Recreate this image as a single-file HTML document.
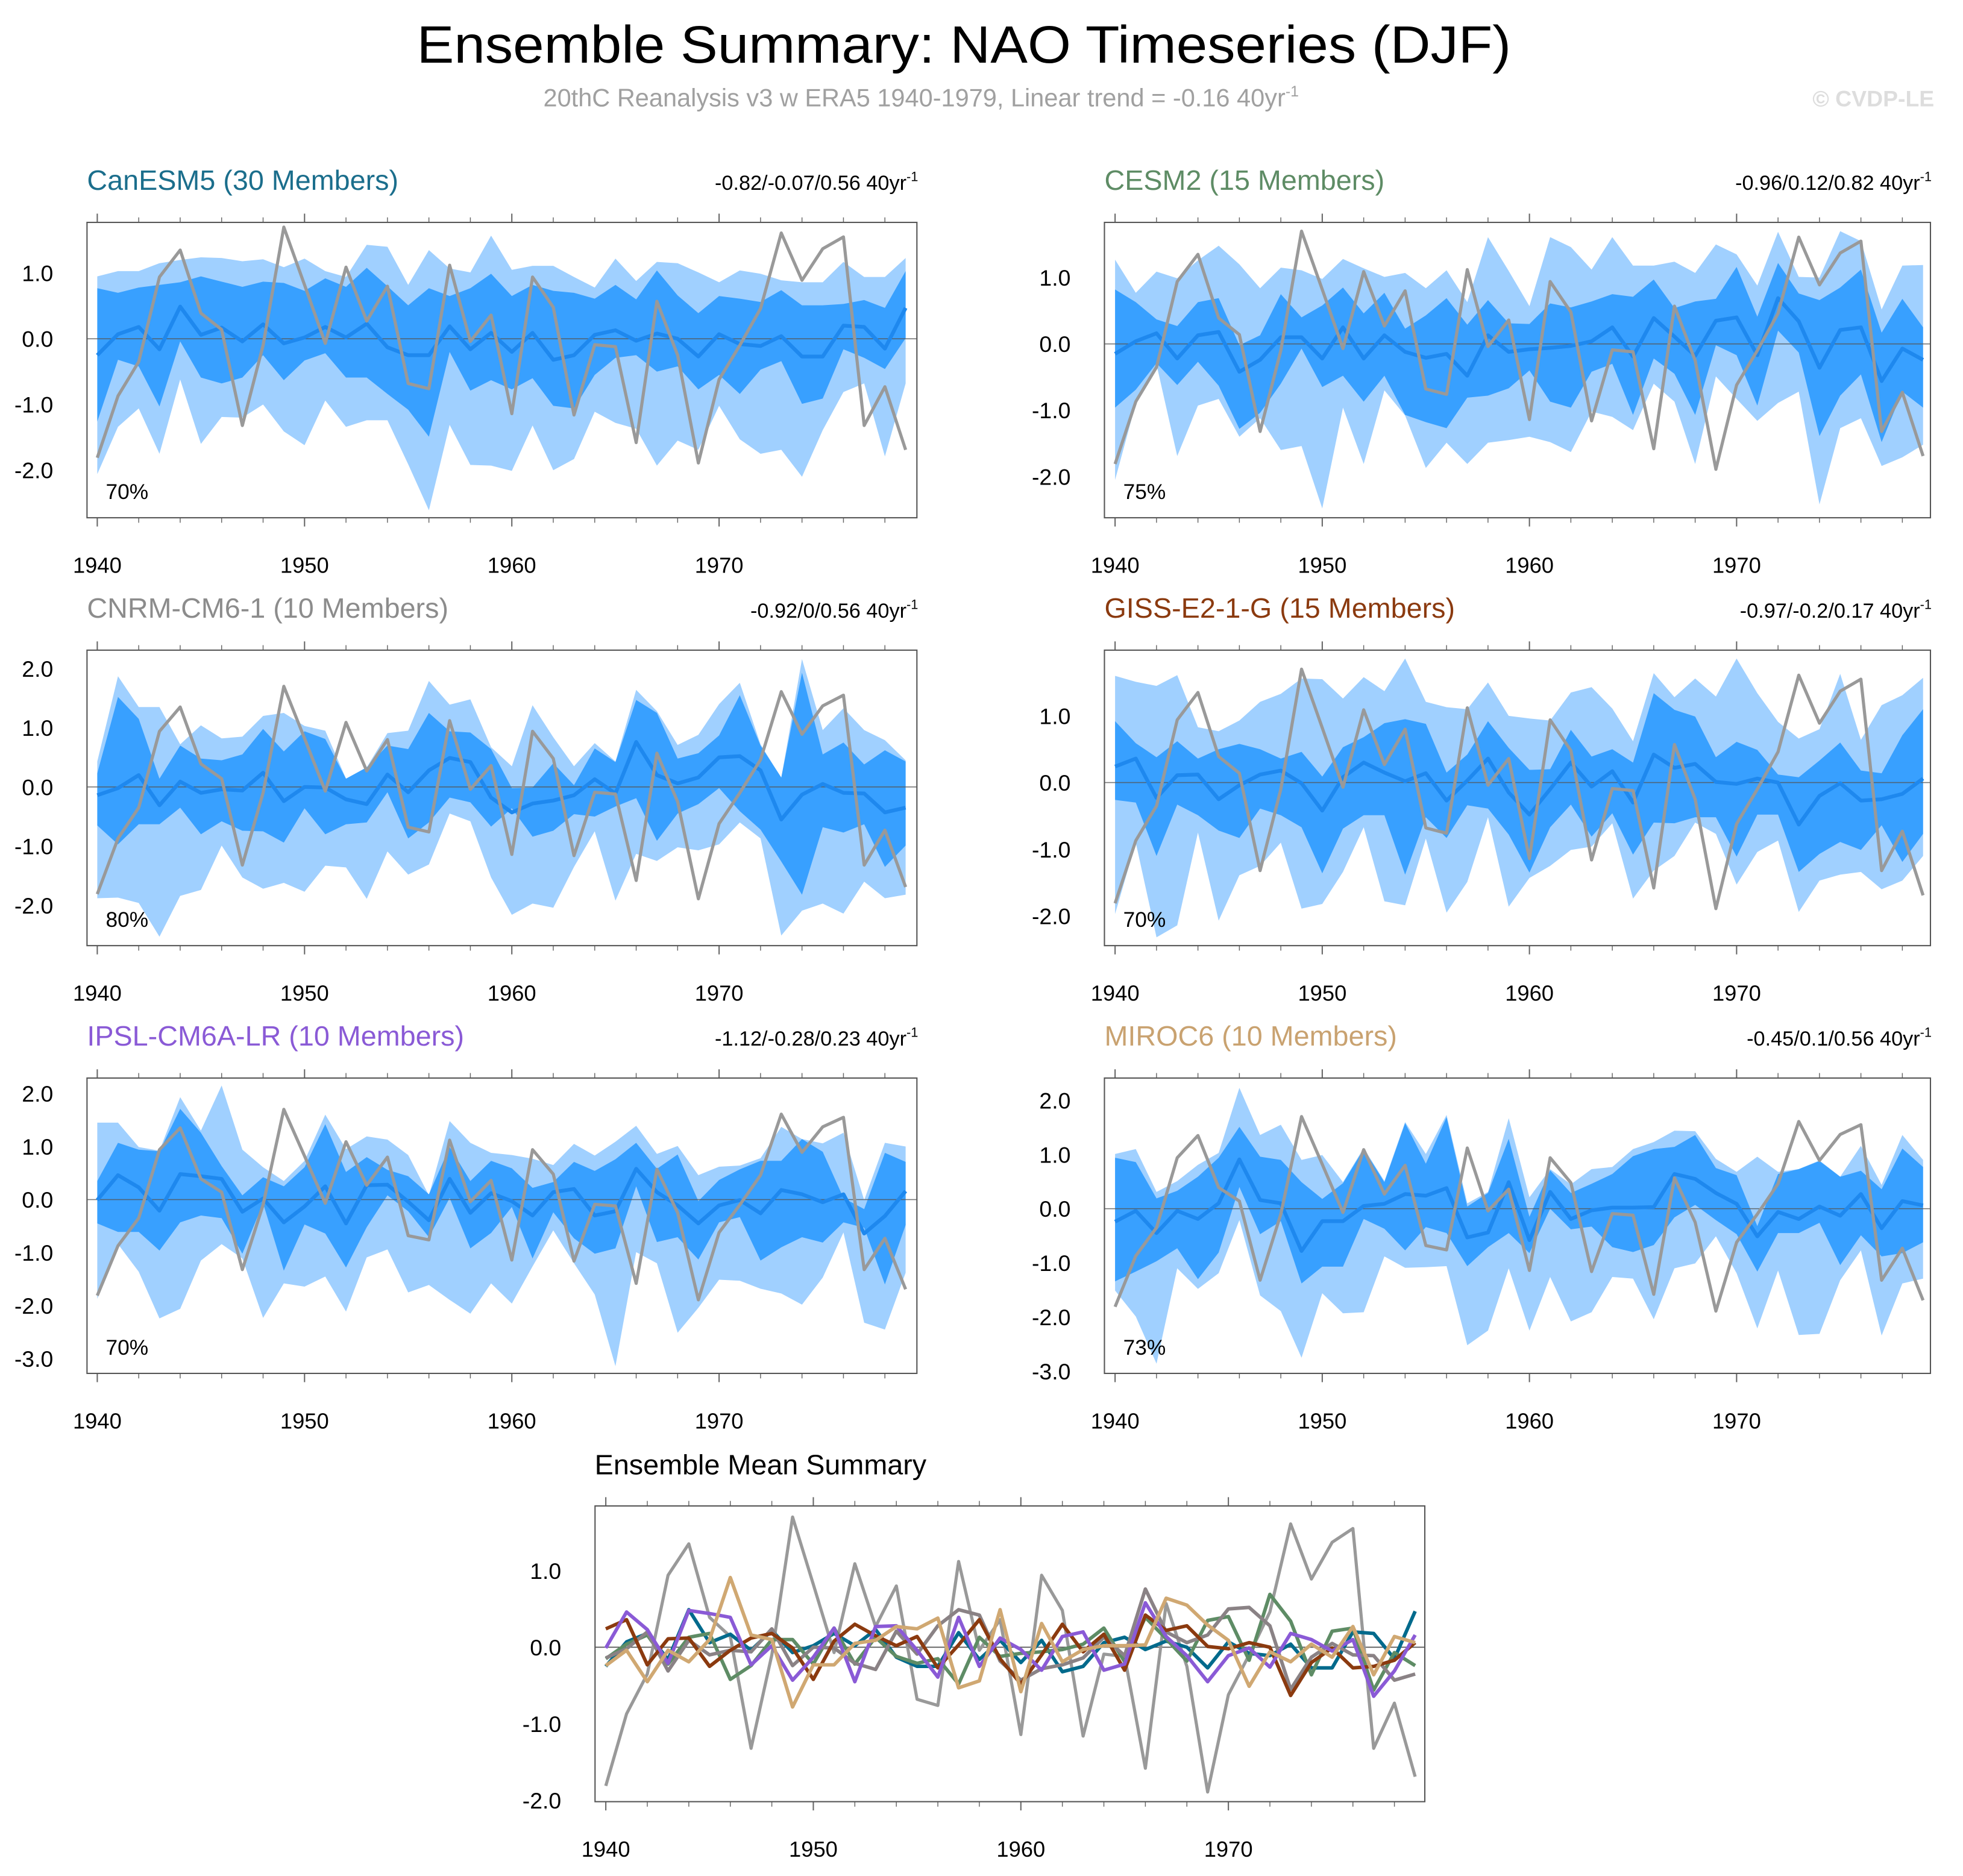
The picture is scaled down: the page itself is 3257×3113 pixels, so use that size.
<!DOCTYPE html>
<html><head><meta charset="utf-8"><title>Ensemble Summary: NAO Timeseries (DJF)</title>
<style>html,body{margin:0;padding:0;background:#fff}svg{display:block}text{font-family:"Liberation Sans",Arial,sans-serif}</style>
</head><body>
<svg id="chart" xmlns="http://www.w3.org/2000/svg" width="3257" height="3113" viewBox="0 0 1568 1499" preserveAspectRatio="none">
<text x="770" y="50" font-size="42" text-anchor="middle" textLength="874" lengthAdjust="spacingAndGlyphs">Ensemble Summary: NAO Timeseries (DJF)</text>
<text x="434" y="85" font-size="20" fill="#a0a0a0">20thC Reanalysis v3 w ERA5 1940-1979, Linear trend = -0.16 40yr<tspan font-size="12" dy="-8">-1</tspan></text>
<text x="1545" y="85" font-size="18" font-weight="bold" fill="#dddddd" text-anchor="end">© CVDP-LE</text>
<g id="plots"></g>
</svg>
<script>
const years=[];for(let y=1940;y<=1979;y++)years.push(y);
const obs=[-1.81,-0.87,-0.35,0.94,1.35,0.39,0.14,-1.32,-0.1,1.70,0.82,-0.07,1.09,0.27,0.8,-0.68,-0.76,1.12,-0.04,0.36,-1.14,0.94,0.48,-1.16,-0.09,-0.12,-1.58,0.57,-0.25,-1.89,-0.62,-0.1,0.46,1.61,0.89,1.37,1.55,-1.32,-0.73,-1.69];

const canMean=[-0.25,0.07,0.18,-0.16,0.49,0.06,0.17,-0.04,0.22,-0.07,0.02,0.18,0.02,0.23,-0.13,-0.25,-0.25,0.19,-0.16,0.09,-0.2,0.09,-0.32,-0.25,0.06,0.13,-0.03,0.08,0,-0.27,0.07,-0.08,-0.11,0.04,-0.27,-0.27,0.2,0.18,-0.15,0.47];
const canDU=[0.77,0.7,0.78,0.82,0.86,0.95,0.87,0.79,0.87,0.85,0.73,0.92,0.79,1.08,0.8,0.51,0.77,0.65,0.77,0.99,0.65,0.82,0.73,0.7,0.61,0.82,0.6,1.04,0.66,0.39,0.65,0.61,0.56,0.74,0.51,0.51,0.53,0.59,0.47,1.03];
const canDL=[-1.26,-0.32,-0.42,-1.03,-0.04,-0.59,-0.68,-0.59,-0.25,-0.63,-0.33,-0.22,-0.59,-0.59,-0.84,-1.08,-1.49,-0.2,-0.79,-0.63,-0.77,-0.6,-1.02,-1.06,-0.55,-0.29,-0.25,-0.5,-0.42,-0.77,-0.55,-0.84,-0.47,-0.34,-0.99,-0.91,-0.16,-0.29,-0.46,0.01];
const canLU=[0.95,1.03,1.03,1.15,1.2,1.24,1.23,1.18,1.21,1.09,1.22,1.03,0.94,1.43,1.4,0.82,1.35,1.07,1.01,1.57,1.05,1.11,1.11,0.94,0.78,1.22,0.88,1.17,1.15,1.01,0.86,1.04,0.99,0.89,0.86,0.86,1.17,0.94,0.94,1.23];
const canLL=[-2.06,-1.34,-1.06,-1.75,-0.62,-1.6,-1.19,-1.2,-1.0,-1.41,-1.62,-0.94,-1.34,-1.24,-1.24,-1.91,-2.61,-1.31,-1.92,-1.93,-2.01,-1.32,-2.0,-1.83,-1.11,-1.28,-1.37,-1.93,-1.55,-1.69,-1.02,-1.53,-1.75,-1.69,-2.1,-1.39,-0.81,-0.68,-1.79,-0.68];

const cesmMean=[-0.15,0.04,0.16,-0.22,0.13,0.18,-0.42,-0.24,0.1,0.1,-0.22,0.25,-0.22,0.13,-0.12,-0.21,-0.15,-0.48,0.13,-0.12,-0.08,-0.06,-0.03,0.04,0.25,-0.19,0.39,0.11,-0.18,0.35,0.4,-0.17,0.69,0.34,-0.36,0.21,0.25,-0.56,-0.07,-0.24];
const cesmDU=[0.82,0.63,0.37,0.27,0.63,0.69,-0.02,0.13,0.75,0.4,0.58,0.85,0.46,0.77,0.23,0.43,0.69,0.29,0.66,0.31,0.3,0.61,0.55,0.64,0.75,0.71,0.97,0.54,0.64,0.68,1.16,0.41,1.22,0.76,0.66,0.85,1.12,0.17,0.68,0.25];
const cesmDL=[-0.96,-0.69,-0.29,-0.62,-0.27,-0.63,-1.28,-1.04,-0.6,-0.07,-0.65,-0.48,-0.87,-0.48,-1.07,-1.18,-1.27,-0.81,-0.78,-0.67,-0.4,-0.87,-0.96,-0.42,-0.3,-1.07,-0.22,-0.45,-1.07,-0.02,-0.17,-0.93,0.2,-0.13,-1.39,-0.78,-0.46,-1.48,-0.72,-0.96];
const cesmLU=[1.27,0.77,1.09,0.99,1.26,1.48,1.2,0.84,1.15,1.11,0.98,1.28,1.14,1.01,1.07,0.84,1.11,0.63,1.61,1.1,0.57,1.61,1.46,1.12,1.61,1.18,1.18,1.24,1.07,1.5,1.35,0.88,1.69,1.01,1.0,1.7,1.55,0.52,1.18,1.19];
const cesmLL=[-2.05,-0.9,-0.31,-1.69,-0.93,-0.83,-1.4,-1.12,-1.6,-1.54,-2.48,-0.96,-1.81,-0.7,-1.08,-1.87,-1.49,-1.81,-1.49,-1.45,-1.4,-1.48,-1.63,-1.02,-1.1,-1.3,-0.6,-0.87,-1.81,-0.49,-0.83,-1.16,-0.89,-0.72,-2.42,-1.27,-1.12,-1.84,-1.71,-1.52];

const cnrmMean=[-0.14,-0.02,0.2,-0.31,0.09,-0.1,-0.04,-0.06,0.24,-0.24,0,-0.01,-0.21,-0.29,0.21,-0.09,0.28,0.49,0.42,-0.18,-0.43,-0.28,-0.23,-0.14,0.13,-0.11,0.76,0.2,0.06,0.16,0.5,0.52,0.28,-0.55,-0.13,0.05,-0.1,-0.11,-0.43,-0.35];
const cnrmDU=[0.23,1.52,1.15,0.14,0.7,0.48,0.45,0.55,0.98,0.6,0.94,0.81,0.14,0.33,0.7,0.64,1.25,0.94,0.92,0.64,-0.02,-0.01,0.4,0.03,0.65,0.42,1.47,1.25,0.48,0.57,0.87,1.55,0.7,0.16,1.93,0.55,0.75,0.38,0.62,0.43];
const cnrmDL=[-0.65,-0.97,-0.63,-0.63,-0.35,-0.8,-0.58,-0.74,-0.75,-0.94,-0.36,-0.8,-0.63,-0.6,-0.09,-0.87,-0.6,-0.18,-0.26,-0.67,-0.36,-0.84,-0.74,-0.46,-0.5,-0.33,-0.19,-0.91,-0.45,-0.29,-0.02,-0.41,-0.72,-1.26,-1.82,-0.68,-0.77,-0.63,-1.35,-0.99];
const cnrmLU=[0.43,1.87,1.35,1.35,0.72,1.04,0.82,0.85,1.2,1.25,1.03,0.95,0.14,0.33,0.91,0.95,1.79,1.39,1.48,0.67,0.35,1.38,0.84,0.35,0.74,0.43,1.64,1.28,0.71,0.88,1.4,1.76,0.72,0.15,2.16,0.96,1.33,0.96,0.79,0.45];
const cnrmLL=[-1.88,-1.87,-1.96,-2.53,-1.84,-1.74,-0.99,-1.53,-1.72,-1.62,-1.77,-1.33,-1.36,-1.89,-1.09,-1.48,-1.31,-0.45,-0.58,-1.53,-2.16,-1.97,-2.04,-1.35,-0.75,-1.92,-1.13,-1.25,-1.02,-1.07,-0.97,-0.6,-0.87,-2.51,-2.09,-1.97,-2.14,-1.6,-1.88,-1.82];

const gissMean=[0.24,0.36,-0.23,0.11,0.12,-0.25,-0.04,0.12,0.18,-0.01,-0.42,0.08,0.3,0.15,0.02,0.14,-0.27,0.03,0.36,-0.15,-0.48,-0.1,0.3,-0.06,0.17,-0.3,0.42,0.22,0.28,0.01,-0.02,0.06,0,-0.63,-0.2,-0.01,-0.27,-0.25,-0.17,0.06];
const gissDU=[0.92,0.59,0.38,0.62,0.36,0.5,0.58,0.5,0.36,0.46,0.09,0.53,0.68,0.89,0.95,0.88,0.15,0.42,0.92,0.52,0.19,0.2,0.79,0.39,0.5,0.3,1.34,1.09,0.99,0.38,0.61,0.49,0.12,0.08,0.33,0.6,0.18,0.14,0.71,1.1];
const gissDL=[-0.26,-0.3,-1.1,-0.33,-0.49,-0.72,-0.83,-0.39,-0.49,-0.67,-1.36,-0.69,-0.49,-0.49,-1.38,-0.52,-0.83,-0.34,-0.39,-0.78,-1.35,-0.67,-0.33,-0.81,-0.46,-1.08,-0.6,-0.61,-0.52,-0.52,-1.11,-0.48,-0.48,-1.34,-1.07,-0.89,-1.01,-0.64,-1.19,-0.77];
const gissLU=[1.6,1.51,1.45,1.61,0.83,0.77,0.93,1.21,1.33,1.56,1.55,1.26,1.58,1.37,1.86,1.21,1.13,1.1,1.5,1.0,0.96,0.93,1.35,1.43,1.11,0.62,1.64,1.28,1.56,1.29,1.86,1.34,0.91,0.66,0.8,1.63,0.64,1.16,1.31,1.57];
const gissLL=[-1.97,-0.9,-2.32,-2.14,-0.75,-2.07,-1.39,-1.25,-0.9,-1.89,-1.82,-1.34,-0.67,-1.78,-1.84,-0.84,-1.95,-1.49,-0.52,-1.86,-1.43,-1.25,-1.01,-0.96,-0.61,-1.74,-1.32,-1.1,-0.6,-0.77,-1.53,-1.04,-0.87,-1.94,-1.47,-1.38,-1.34,-1.6,-1.47,-1.1];

const ipslMean=[-0.01,0.46,0.23,-0.21,0.48,0.44,0.39,-0.23,0.02,-0.43,-0.13,0.25,-0.45,0.27,0.28,-0.04,-0.39,0.39,-0.25,0.12,-0.03,-0.3,0.14,0.2,-0.3,-0.22,0.58,0.14,-0.11,-0.45,-0.11,-0.01,-0.26,0.18,0.1,-0.05,0.1,-0.64,-0.31,0.16];
const ipslDU=[0.35,1.07,0.94,0.91,1.71,1.26,0.63,0.08,0.42,0.25,0.61,1.42,0.52,0.8,0.56,0.44,0.1,0.99,0.35,0.73,0.59,0.22,0.33,0.71,0.54,0.76,1.07,0.58,0.85,-0.03,0.37,0.57,0.73,0.73,1.14,0.9,0.03,-0.18,0.88,0.71];
const ipslDL=[-0.45,-0.61,-0.61,-0.96,-0.43,-0.3,-0.35,-1.02,-0.07,-1.34,-0.47,-0.64,-1.28,-0.52,0.08,-0.22,-0.71,0.03,-0.92,-0.63,-0.14,-1.11,-0.24,-0.73,-1.02,-0.92,0.25,-0.8,-0.71,-1.13,-0.43,-0.33,-1.15,-0.9,-0.71,-0.81,-0.43,-0.53,-1.6,-0.48];
const ipslLU=[1.45,1.45,0.99,0.92,1.93,1.3,2.15,0.94,0.61,0.35,0.73,1.6,0.95,1.19,1.13,0.84,0.08,1.48,1.07,0.88,0.84,0.77,0.65,1.05,0.83,1.09,1.39,0.86,1.01,0.46,0.62,0.64,0.78,1.37,1.14,1.06,1.26,-0.01,1.07,1.0];
const ipslLL=[-1.87,-0.84,-1.36,-2.24,-2.06,-1.15,-0.84,-1.11,-2.23,-1.58,-1.64,-1.45,-2.11,-1.09,-0.94,-1.75,-1.61,-1.89,-2.15,-1.58,-1.96,-1.26,-0.58,-1.2,-1.79,-3.14,-0.99,-1.2,-2.51,-2.04,-1.51,-1.53,-1.68,-1.77,-1.98,-1.47,-0.62,-2.32,-2.45,-1.38];

const mirMean=[-0.24,-0.04,-0.45,-0.04,-0.19,0.1,0.91,0.16,0.1,-0.78,-0.23,-0.23,0.05,0.09,0.27,0.24,0.38,-0.53,-0.44,0.49,-0.58,0.31,-0.19,-0.03,0.02,0.02,0.03,0.64,0.55,0.29,0.09,-0.51,-0.06,-0.19,0.04,-0.13,0.27,-0.36,0.14,0.06];
const mirDU=[0.94,0.86,0.19,0.33,0.59,0.94,1.51,0.96,0.9,0.49,0.18,0.47,1.1,0.49,1.58,0.83,1.69,0.04,0.29,1.29,-0.15,0.71,0.29,0.46,0.64,0.97,1.1,1.14,1.36,0.75,0.62,-0.32,0.64,0.73,0.88,0.59,0.7,0.36,1.11,0.77];
const mirDL=[-1.34,-1.16,-0.97,-0.73,-1.3,-0.81,0.4,-0.47,-0.23,-1.38,-1.07,-1.07,-0.19,-0.37,-0.77,-0.34,-0.45,-1.06,-0.71,-0.45,-0.82,0,-0.38,-0.33,-0.71,-0.8,-0.67,-0.16,0.07,-0.21,-0.47,-1.16,-0.45,-0.45,-0.26,-1.04,-0.49,-0.88,-0.82,-0.62];
const mirLU=[1.01,1.1,0.31,0.51,0.81,1.03,2.23,1.36,1.55,0.9,0.99,0.49,1.12,0.51,1.6,1.01,1.73,0.1,0.31,1.67,0.21,0.73,0.45,0.73,0.77,1.1,1.23,1.44,1.43,0.92,0.68,0.96,0.68,0.73,0.89,0.59,1.16,0.44,1.36,0.9];
const mirLL=[-1.51,-1.99,-2.86,-1.1,-1.48,-1.19,-0.21,-1.6,-1.89,-2.75,-1.56,-1.93,-1.91,-0.88,-1.09,-1.08,-1.06,-2.52,-2.25,-1.1,-2.25,-1.26,-2.08,-1.91,-1.26,-1.29,-2.04,-1.1,-1.01,-0.51,-1.19,-2.21,-1.14,-2.33,-2.31,-1.32,-0.77,-2.34,-1.38,-1.29];

const xTickYears=[1940,1950,1960,1970];
const NS='http://www.w3.org/2000/svg';
const root=document.getElementById('plots');
function mk(tag,attrs,parent){const e=document.createElementNS(NS,tag);for(const k in attrs)e.setAttribute(k,attrs[k]);(parent||root).appendChild(e);return e;}
function fmt(v){return v.toFixed(1);}

const panels=[
 {id:'canesm5',title:'CanESM5 (30 Members)',color:'#1b6e8c',trend:'-0.82/-0.07/0.56',pct:'70%',L:69.5,R:732.4,T:177.7,B:413.7,x0:77.7,x1:723.4,y0:270.7,unit:52.5,ticks:[1,0,-1,-2],mean:canMean,du:canDU,dl:canDL,lu:canLU,ll:canLL},
 {id:'cesm2',title:'CESM2 (15 Members)',color:'#5e8c65',trend:'-0.96/0.12/0.82',pct:'75%',L:882.2,R:1542,T:177.7,B:413.7,x0:890.7,x1:1536.1,y0:274.8,unit:53,ticks:[1,0,-1,-2],mean:cesmMean,du:cesmDU,dl:cesmDL,lu:cesmLU,ll:cesmLL},
 {id:'cnrm',title:'CNRM-CM6-1 (10 Members)',color:'#8c8c8c',trend:'-0.92/0/0.56',pct:'80%',L:69.5,R:732.4,T:519.5,B:755.6,x0:77.7,x1:723.4,y0:628.8,unit:47.3,ticks:[2,1,0,-1,-2],mean:cnrmMean,du:cnrmDU,dl:cnrmDL,lu:cnrmLU,ll:cnrmLL},
 {id:'giss',title:'GISS-E2-1-G (15 Members)',color:'#8b3a0f',trend:'-0.97/-0.2/0.17',pct:'70%',L:882.2,R:1542,T:519.5,B:755.6,x0:890.7,x1:1536.1,y0:625.3,unit:53.3,ticks:[1,0,-1,-2],mean:gissMean,du:gissDU,dl:gissDL,lu:gissLU,ll:gissLL},
 {id:'ipsl',title:'IPSL-CM6A-LR (10 Members)',color:'#8a5ad6',trend:'-1.12/-0.28/0.23',pct:'70%',L:69.5,R:732.4,T:861.4,B:1097.4,x0:77.7,x1:723.4,y0:958.5,unit:42.4,ticks:[2,1,0,-1,-2,-3],mean:ipslMean,du:ipslDU,dl:ipslDL,lu:ipslLU,ll:ipslLL},
 {id:'miroc6',title:'MIROC6 (10 Members)',color:'#c9a270',trend:'-0.45/0.1/0.56',pct:'73%',L:882.2,R:1542,T:861.4,B:1097.4,x0:890.7,x1:1536.1,y0:965.8,unit:43.3,ticks:[2,1,0,-1,-2,-3],mean:mirMean,du:mirDU,dl:mirDL,lu:mirLU,ll:mirLL}
];

function axes(g,p){
  const X=yr=>p.x0+(yr-1940)*(p.x1-p.x0)/39;
  const Y=v=>p.y0-v*p.unit;
  const ax=mk('g',{},g);
  
  
  const vmin=(p.y0-p.B)/p.unit*-1, vmax=(p.y0-p.T)/p.unit;
  for(let k=Math.ceil(vmin*5);k<=Math.floor(vmax*5);k++){
    const v=k/5,y=Y(v),major=(k%5===0),len=major?7:4;
    mk('line',{x1:p.L-len,x2:p.L,y1:y,y2:y,stroke:'#666','stroke-width':major?1:0.7},ax);
    mk('line',{x1:p.R,x2:p.R+len,y1:y,y2:y,stroke:'#666','stroke-width':major?1:0.7},ax);
  }
  for(let yr=1940;yr<=1979;yr+=2){
    const x=X(yr),major=(yr%10===0),len=major?7:4;
    mk('line',{x1:x,x2:x,y1:p.B,y2:p.B+len,stroke:'#666','stroke-width':major?1:0.7},ax);
    mk('line',{x1:x,x2:x,y1:p.T-len,y2:p.T,stroke:'#666','stroke-width':major?1:0.7},ax);
  }
  p.ticks.forEach(v=>{
    const t=mk('text',{x:p.L-27,y:Y(v)+6.5,'font-size':18,'text-anchor':'end'},ax);
    
    
    t.textContent=fmt(v);
  });
  xTickYears.forEach(yr=>{
    const t=mk('text',{x:X(yr),y:p.B+44,'font-size':17.5,'text-anchor':'middle'},ax);
    
    
    t.textContent=yr;
  });
  return {X,Y};
}
function linePts(arr,X,Y){return arr.map((v,i)=>X(years[i]).toFixed(2)+','+Y(v).toFixed(2)).join(' ');}
function bandPts(up,lo,X,Y){const a=up.map((v,i)=>X(years[i])+','+Y(v));const b=lo.map((v,i)=>X(years[i])+','+Y(v)).reverse();return a.concat(b).join(' ');}

panels.forEach(p=>{
  const g=mk('g',{});
  
  
  const {X,Y}=axes(g,p);
  const lb=mk('polygon',{points:bandPts(p.lu,p.ll,X,Y),fill:'#a0d0ff'},g);
  
  
  const db=mk('polygon',{points:bandPts(p.du,p.dl,X,Y),fill:'#38a0ff'},g);
  
  
  mk('line',{x1:p.L,x2:p.R,y1:Y(0),y2:Y(0),stroke:'#555','stroke-width':0.8,'stroke-opacity':0.8},g);
  const ml=mk('polyline',{points:linePts(p.mean,X,Y),fill:'none',stroke:'#1e88ee','stroke-width':3,'stroke-linejoin':'round'},g);
  
  
  const ol=mk('polyline',{points:linePts(obs,X,Y),fill:'none',stroke:'#999','stroke-width':2.5,'stroke-linejoin':'round'},g);
  
  
  mk('rect',{x:p.L,y:p.T,width:p.R-p.L,height:p.B-p.T,fill:'none',stroke:'#555','stroke-width':1},g);
  const ti=mk('text',{x:p.L,y:p.T-26,'font-size':22.5,fill:p.color},g);
  
  
  ti.textContent=p.title;
  const tr=mk('text',{x:p.R+1,y:p.T-26,'font-size':16.5,'text-anchor':'end'},g);
  
  
  tr.textContent=p.trend+' 40yr';
  const sup=mk('tspan',{'font-size':10.5,dy:-7},tr);sup.textContent='-1';
  const pc=mk('text',{x:p.L+15,y:p.B-15,'font-size':17},g);
  
  
  pc.textContent=p.pct;
});

// Ensemble mean summary
const bp={L:475.3,R:1138.1,T:1203.3,B:1439.6,x0:483.9,x1:1130.4,y0:1316.2,unit:61.2,ticks:[1,0,-1,-2]};
const bg=mk('g',{});


const BA=axes(bg,bp);
mk('line',{x1:bp.L,x2:bp.R,y1:BA.Y(0),y2:BA.Y(0),stroke:'#555','stroke-width':0.8},bg);
const bo=mk('polyline',{points:linePts(obs,BA.X,BA.Y),fill:'none',stroke:'#999','stroke-width':2.5,'stroke-linejoin':'round'},bg);


const summaryColors=['#006a8c','#5e8c65','#8a8285','#8b3a0f','#8a5ad6','#d0a872'];
panels.forEach((p,i)=>{
  const l=mk('polyline',{points:linePts(p.mean,BA.X,BA.Y),fill:'none',stroke:summaryColors[i],'stroke-width':2.8,'stroke-linejoin':'round'},bg);
  
  
});
mk('rect',{x:bp.L,y:bp.T,width:bp.R-bp.L,height:bp.B-bp.T,fill:'none',stroke:'#555','stroke-width':1},bg);
const bt=mk('text',{x:475,y:1178,'font-size':22.5},bg);


bt.textContent='Ensemble Mean Summary';
</script>
</body></html>
